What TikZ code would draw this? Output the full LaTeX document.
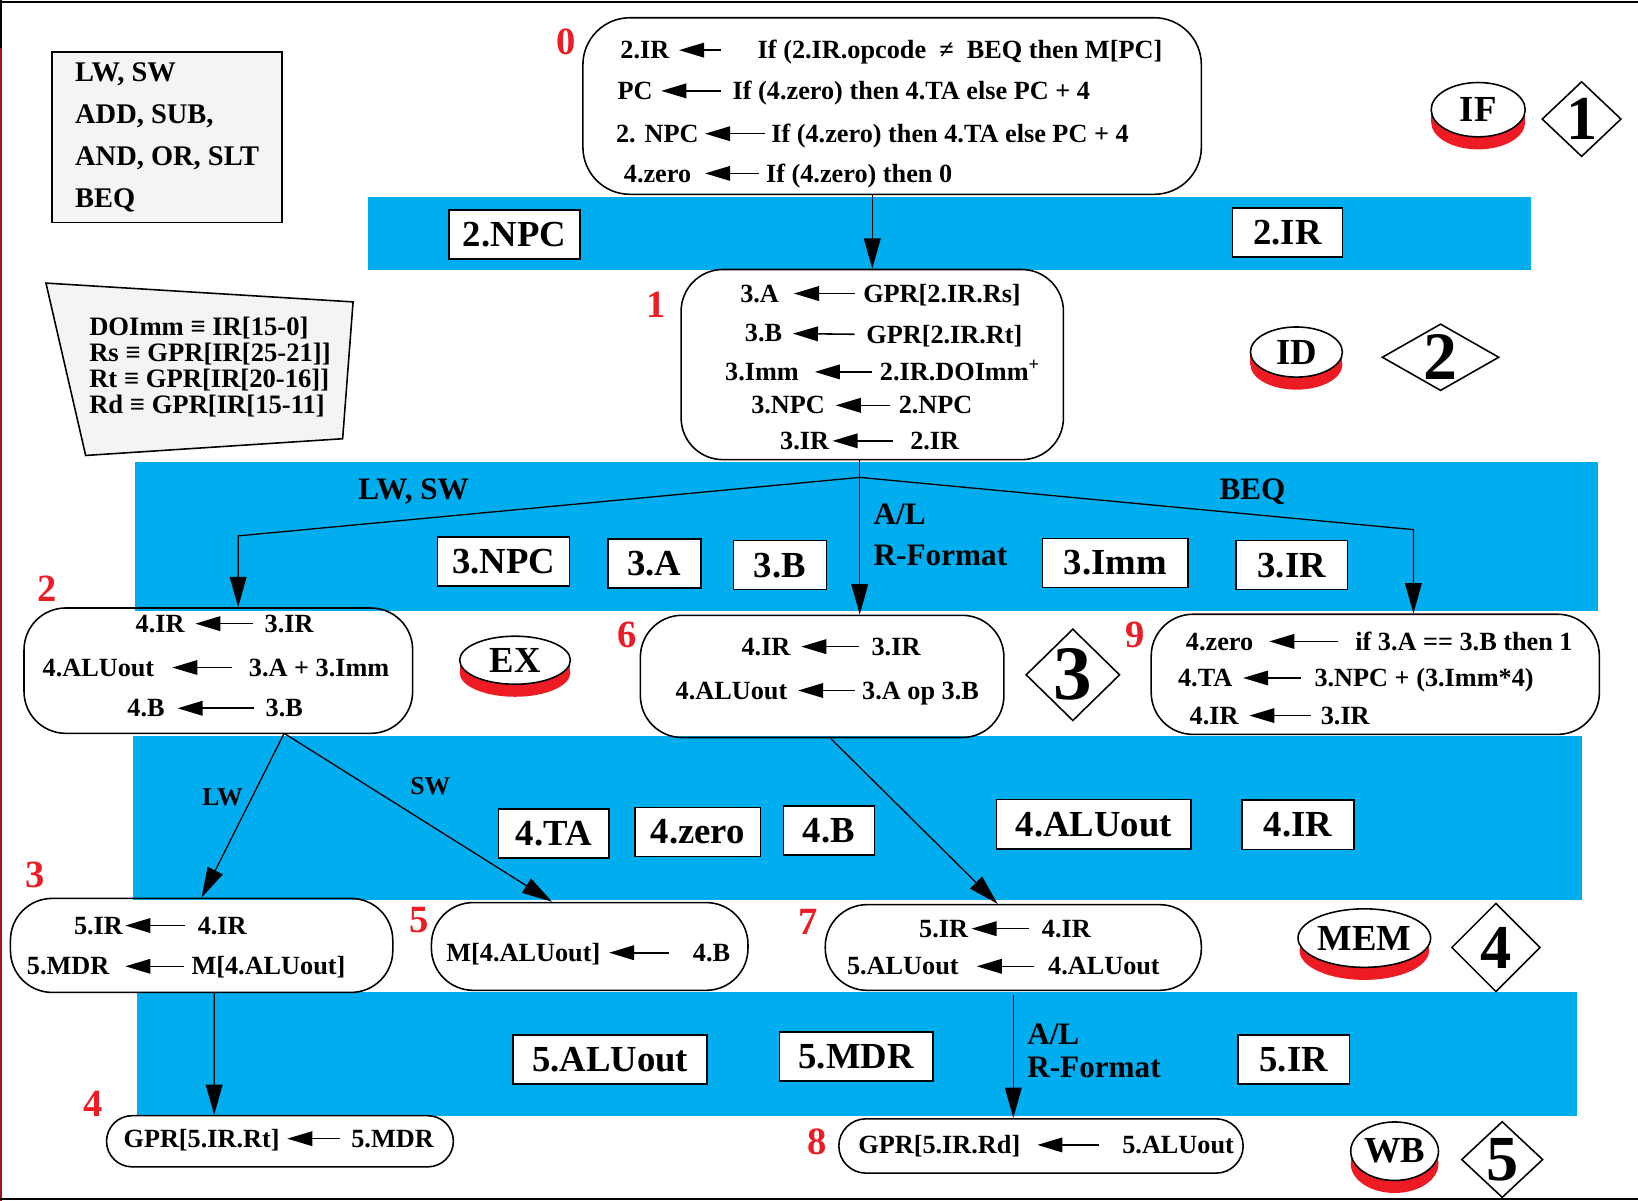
\documentclass[tikz,border=0pt]{standalone}
\usepackage{fontspec}
\setmainfont{Liberation Serif}
\usetikzlibrary{arrows.meta,shapes.geometric}
\definecolor{pipeblue}{HTML}{00AEEF}
\definecolor{stepred}{HTML}{ED1C24}
\definecolor{framered}{HTML}{A3121B}
\definecolor{notegray}{HTML}{F4F4F4}

\begin{document}
\begin{tikzpicture}[x=0.2mm,y=-0.2mm,
    box/.style={draw,line width=0.3mm,rounded corners=8mm,inner sep=0pt},
    txt/.style={inner sep=0pt,font=\fontsize{14.3}{17}\selectfont\bfseries,text height=3.3mm,text depth=0pt},
    asg/.style={line width=0.3mm,-{Triangle[length=4.8mm,width=2.8mm]},shorten >=2mm,shorten <=2.2mm},
    flow/.style={line width=0.25mm,-{Triangle[length=5.8mm,width=3.2mm]}},
    reg/.style={draw,line width=0.3mm,fill=white,inner sep=0pt,minimum height=9.4mm,font=\fontsize{20}{24}\selectfont\bfseries},
    stepno/.style={text=stepred,inner sep=0pt,font=\fontsize{21}{24}\selectfont\bfseries},
    lbl/.style={inner sep=0pt,font=\fontsize{17}{22}\selectfont\bfseries},
    stage/.style={draw,ellipse,fill=white,line width=0.3mm,inner sep=0pt,font=\fontsize{20}{24}\selectfont\bfseries},
    stagebase/.style={fill=stepred},
    stageno/.style={draw,diamond,line width=0.3mm,inner sep=0pt},
    stagedigit/.style={inner sep=0pt,font=\fontsize{#1}{#1}\selectfont\bfseries}]
\useasboundingbox (0,0) rectangle (1568,1149.5);

\fill[pipeblue] (352,189) rectangle (1466,258);
\fill[pipeblue] (129,442) rectangle (1530,585);
\fill[pipeblue] (127,705) rectangle (1514,862);
\fill[pipeblue] (131,950) rectangle (1510,1068);

\draw[line width=0.4mm] (0,2) -- (1568,2);
\draw[line width=0.4mm] (1,0) -- (1,46);
\draw[line width=0.4mm,framered] (1,46) -- (1,1149.5);
\draw[line width=0.4mm] (0,1148) -- (1568,1148);

\node[draw,fill=notegray,line width=0.3mm,minimum width=44mm,minimum height=32.6mm,align=left,inner sep=0pt,
  font=\fontsize{15.5}{22.8}\selectfont\bfseries] (ops) at (160,131.5) {LW, SW\\ADD, SUB,\\AND, OR, SLT\\BEQ};
\filldraw[fill=notegray,line width=0.3mm] (44,271) -- (338,289) -- (328,420) -- (82,436) -- cycle;
\node[align=left,inner sep=0pt,font=\fontsize{14.5}{14.2}\selectfont\bfseries] (defs) at (201,351)
  {DOImm ≡ IR[15-0]\\Rs ≡ GPR[IR[25-21]]\\Rt ≡ GPR[IR[20-16]]\\Rd ≡ GPR[IR[15-11]};

\node[box,rounded corners=9mm,minimum width=118.4mm,minimum height=33.8mm] (s0) at (854,101.5) {};
\node[box,minimum width=73.2mm,minimum height=36.4mm] (s1) at (835,349) {};
\node[box,minimum width=74.4mm,minimum height=24mm] (s2) at (209,642) {};
\node[box,minimum width=73.2mm,minimum height=18mm] (s3) at (193,905) {};
\node[box,rounded corners=4.9mm,minimum width=66.4mm,minimum height=9.8mm] (s4) at (268,1092.5) {};
\node[box,minimum width=60.6mm,minimum height=16.8mm] (s5) at (564.5,906) {};
\node[box,minimum width=69.6mm,minimum height=23.4mm] (s6) at (787,647.5) {};
\node[box,minimum width=72mm,minimum height=16.4mm] (s7) at (970,907) {};
\node[box,rounded corners=5.2mm,minimum width=77.4mm,minimum height=10.4mm] (s8) at (996.5,1097) {};
\node[box,minimum width=85.8mm,minimum height=23mm] (s9) at (1316.5,645.5) {};

\node[stepno] (n0) at (542,40) {0};
\node[stepno] (n1) at (628,292) {1};
\node[stepno] (n2) at (45,564) {2};
\node[stepno] (n3) at (34,838) {3};
\node[stepno] (n4) at (89,1057) {4};
\node[stepno] (n5) at (401,881) {5};
\node[stepno] (n6) at (600,608) {6};
\node[stepno] (n7) at (774,882) {7};
\node[stepno] (n8) at (782,1093) {8};
\node[stepno] (n9) at (1087,608) {9};

\node[txt,anchor=east] (l0a) at (641,48) {2.IR};
\node[txt,anchor=west] (r0a) at (725,48) {If (2.IR.opcode~~≠~~BEQ then M[PC]};
\draw[asg,shorten >=1.8mm,shorten <=7mm] (r0a) -- (l0a);
\node[txt,anchor=east] (l0b) at (625,87) {PC};
\node[txt,anchor=west] (r0b) at (701,87) {If (4.zero) then 4.TA else PC + 4};
\draw[asg,shorten >=1.6mm] (r0b) -- (l0b);
\node[txt,anchor=east] (l0c) at (669,128) {2. NPC};
\node[txt,anchor=west] (r0c) at (738,128) {If (4.zero) then 4.TA else PC + 4};
\draw[asg,shorten >=1.2mm,shorten <=1.2mm] (r0c) -- (l0c);
\node[txt,anchor=east] (l0d) at (662,166) {4.zero};
\node[txt,anchor=west] (r0d) at (733,166) {If (4.zero) then 0};
\draw[asg,shorten >=2.6mm,shorten <=1.2mm] (r0d) -- (l0d);

\node[txt,anchor=east] (l1a) at (746,281) {3.A};
\node[txt,anchor=west] (r1a) at (826,281) {GPR[2.IR.Rs]};
\draw[asg,shorten >=2.8mm,shorten <=1.6mm] (r1a) -- (l1a);
\node[txt,anchor=east] (l1b) at (749,319) {3.B};
\node[txt,anchor=west] (r1b) at (829,321) {GPR[2.IR.Rt]};
\draw[asg] (r1b) -- (l1b);
\node[txt,anchor=east] (l1c) at (765,356) {3.Imm};
\node[txt,anchor=west] (r1c) at (842,356) {2.IR.DOImm\textsuperscript{+}};
\draw[asg,shorten >=3mm,shorten <=1.4mm] (r1c) -- (l1c);
\node[txt,anchor=east] (l1d) at (790,388) {3.NPC};
\node[txt,anchor=west] (r1d) at (860,388) {2.NPC};
\draw[asg,shorten <=1.6mm] (r1d) -- (l1d);
\node[txt,anchor=east] (l1e) at (794,422) {3.IR};
\node[txt,anchor=west] (r1e) at (871,422) {2.IR};
\draw[asg,shorten >=0.6mm,shorten <=3.2mm] (r1e) -- (l1e);

\node[txt,anchor=east] (l2a) at (177,597) {4.IR};
\node[txt,anchor=west] (r2a) at (253,597) {3.IR};
\draw[asg] (r2a) -- (l2a);
\node[txt,anchor=east] (l2b) at (148,639) {4.ALUout};
\node[txt,anchor=west] (r2b) at (238,639) {3.A + 3.Imm};
\draw[asg,shorten >=3.4mm,shorten <=3.2mm] (r2b) -- (l2b);
\node[txt,anchor=east] (l2c) at (158,678) {4.B};
\node[txt,anchor=west] (r2c) at (254,678) {3.B};
\draw[asg,shorten >=2.4mm] (r2c) -- (l2c);

\node[txt,anchor=east] (l6a) at (757,619) {4.IR};
\node[txt,anchor=west] (r6a) at (834,619) {3.IR};
\draw[asg,shorten <=2.4mm] (r6a) -- (l6a);
\node[txt,anchor=east] (l6b) at (754,661) {4.ALUout};
\node[txt,anchor=west] (r6b) at (825,661) {3.A op 3.B};
\draw[asg,shorten <=1.4mm] (r6b) -- (l6b);

\node[txt,anchor=east] (l9a) at (1200,614) {4.zero};
\node[txt,anchor=west] (r9a) at (1297,614) {if 3.A == 3.B then 1};
\draw[asg,shorten >=3mm,shorten <=3.2mm] (r9a) -- (l9a);
\node[txt,anchor=east] (l9b) at (1180,649) {4.TA};
\node[txt,anchor=west] (r9b) at (1258,649) {3.NPC + (3.Imm*4)};
\draw[asg,shorten <=2.6mm] (r9b) -- (l9b);
\node[txt,anchor=east] (l9c) at (1186,685) {4.IR};
\node[txt,anchor=west] (r9c) at (1264,685) {3.IR};
\draw[asg,shorten <=1.8mm] (r9c) -- (l9c);

\node[txt,anchor=east] (l3a) at (118,886) {5.IR};
\node[txt,anchor=west] (r3a) at (189,886) {4.IR};
\draw[asg,shorten >=0.4mm,shorten <=2.4mm] (r3a) -- (l3a);
\node[txt,anchor=east] (l3b) at (105,925) {5.MDR};
\node[txt,anchor=west] (r3b) at (183,925) {M[4.ALUout]};
\draw[asg,shorten >=3mm,shorten <=1.4mm] (r3b) -- (l3b);

\node[txt,anchor=east] (l5a) at (575,912) {M[4.ALUout]};
\node[txt,anchor=west] (r5a) at (663,912) {4.B};
\draw[asg,shorten >=1.6mm,shorten <=4.6mm] (r5a) -- (l5a);

\node[txt,anchor=east] (l7a) at (927,889) {5.IR};
\node[txt,anchor=west] (r7a) at (997,889) {4.IR};
\draw[asg,shorten >=0.6mm,shorten <=2.4mm] (r7a) -- (l7a);
\node[txt,anchor=east] (l7b) at (918,925) {5.ALUout};
\node[txt,anchor=west] (r7b) at (1003,925) {4.ALUout};
\draw[asg,shorten >=3.4mm,shorten <=2.6mm] (r7b) -- (l7b);

\node[txt,anchor=east] (l4a) at (268,1090) {GPR[5.IR.Rt]};
\node[txt,anchor=west] (r4a) at (336,1090) {5.MDR};
\draw[asg,shorten >=1.4mm] (r4a) -- (l4a);

\node[txt,anchor=east] (l8a) at (977,1096) {GPR[5.IR.Rd]};
\node[txt,anchor=west] (r8a) at (1074,1096) {5.ALUout};
\draw[asg,shorten >=3.2mm,shorten <=4.4mm] (r8a) -- (l8a);

\node[reg,minimum width=25mm] (npc2) at (492.5,224.5) {2.NPC};
\node[reg,minimum width=21mm] (ir2) at (1232.5,222.5) {2.IR};
\node[reg,minimum width=25.2mm] (npc3) at (482,537.5) {3.NPC};
\node[reg,minimum width=17.8mm] (a3) at (626.5,539.5) {3.A};
\node[reg,minimum width=17.8mm] (b3) at (746.5,541) {3.B};
\node[reg,minimum width=27.8mm] (imm3) at (1067.5,539) {3.Imm};
\node[reg,minimum width=21.4mm] (ir3) at (1236.5,541) {3.IR};
\node[reg,minimum width=21.2mm] (ta4) at (530,798) {4.TA};
\node[reg,minimum width=24mm] (zero4) at (668,796.5) {4.zero};
\node[reg,minimum width=17.4mm] (b4) at (793.5,795) {4.B};
\node[reg,minimum width=37.2mm] (alu4) at (1047,789) {4.ALUout};
\node[reg,minimum width=21.4mm] (ir4) at (1242.5,789.5) {4.IR};
\node[reg,minimum width=37.2mm] (alu5) at (584,1014) {5.ALUout};
\node[reg,minimum width=29.4mm] (mdr5) at (819.5,1011.5) {5.MDR};
\node[reg,minimum width=21.4mm] (ir5) at (1238.5,1014) {5.IR};

\node[lbl] (lwsw) at (396,471) {LW, SW};
\node[lbl] (beq) at (1199,471) {BEQ};
\node[lbl,anchor=west,align=left] (alr) at (836,512) {A/L\\R-Format};
\node[lbl,anchor=west,align=left,font=\fontsize{17}{17.6}\selectfont\bfseries] (alwb) at (983,1006) {A/L\\R-Format};
\node[lbl,font=\fontsize{14}{16}\selectfont\bfseries] (lw) at (213,763) {LW};
\node[lbl,font=\fontsize{14}{16}\selectfont\bfseries] (sw) at (412,753) {SW};

\coordinate (fork) at (823,457);
\coordinate (lsbend) at (228,513);
\coordinate (beqbend) at (1353,507);
\coordinate (split) at (272,702);
\draw[flow] (s0.south -| s1.north) -- (s1.north);
\draw[flow] (s1.south -| fork) -- (fork |- s6.north);
\draw[flow] (fork) -- (lsbend) -- (lsbend |- s2.north);
\draw[flow] (fork) -- (beqbend) -- (beqbend |- s9.north);
\draw[flow] (split) -- (s3.north);
\draw[flow] (split) -- ([xshift=-7.2mm]s5.north);
\draw[flow] ([xshift=1.6mm]s6.south) -- ([xshift=-3mm]s7.north);
\draw[flow] ([xshift=2.4mm]s3.south) -- ([xshift=-12.6mm]s4.north);
\draw[flow] ([yshift=-0.8mm]s7.south) -- (s7.south |- s8.north);

\fill[stagebase] (1415,117) ellipse [x radius=9mm,y radius=5.2mm];
\fill[stagebase] (1370,105) rectangle (1460,117);
\node[stage,minimum width=18mm,minimum height=10.4mm] (if) at (1415,105) {IF};
\fill[stagebase] (1241,349) ellipse [x radius=8.8mm,y radius=4.8mm];
\fill[stagebase] (1197,337) rectangle (1285,349);
\node[stage,minimum width=17.6mm,minimum height=9.6mm] (id) at (1241,337) {ID};
\fill[stagebase] (493,644) ellipse [x radius=10.6mm,y radius=4.6mm];
\fill[stagebase] (440,632) rectangle (546,644);
\node[stage,minimum width=21.2mm,minimum height=9.2mm] (ex) at (493,632) {EX};
\fill[stagebase] (1306,910) ellipse [x radius=12.4mm,y radius=5.6mm];
\fill[stagebase] (1244,898) rectangle (1368,910);
\node[stage,minimum width=24.8mm,minimum height=11.2mm] (mem) at (1306,898) {MEM};
\fill[stagebase] (1335,1114) ellipse [x radius=8.4mm,y radius=5.6mm];
\fill[stagebase] (1293,1102) rectangle (1377,1114);
\node[stage,minimum width=16.8mm,minimum height=11.2mm] (wb) at (1335,1102) {WB};

\node[stageno,minimum width=15.2mm,minimum height=14.4mm,label={[stagedigit=34]center:1}] (d1) at (1514,114) {};
\node[stageno,minimum width=22.4mm,minimum height=12.8mm,label={[stagedigit=37]center:2}] (d2) at (1379,342) {};
\node[stageno,minimum width=18mm,minimum height=17.6mm,label={[stagedigit=42]center:3}] (d3) at (1027,646) {};
\node[stageno,minimum width=17mm,minimum height=17mm,label={[stagedigit=34]center:4}] (d4) at (1432,907) {};
\node[stageno,minimum width=15.6mm,minimum height=14.6mm,label={[stagedigit=35]center:5}] (d5) at (1438,1110) {};
\end{tikzpicture}
\end{document}
